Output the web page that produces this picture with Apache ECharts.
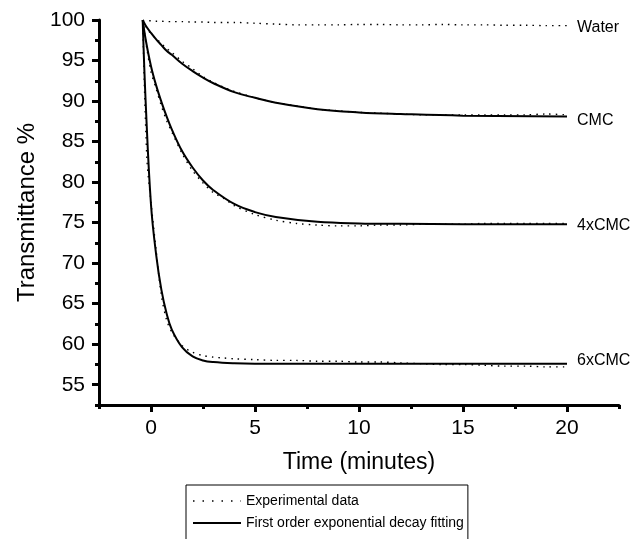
<!DOCTYPE html>
<html>
<head>
<meta charset="utf-8">
<script src="https://cdn.jsdelivr.net/npm/echarts@6/dist/echarts.min.js"></script>
<style>
  html, body { margin: 0; padding: 0; background: #fff; }
  #chart { width: 635px; height: 539px; }
</style>
</head>
<body>
<div id="chart"></div>
<script>
// time points (minutes)
const fitTime = [-0.4, -0.25, 0, 0.25, 0.5, 0.75, 1, 1.5, 2, 2.5, 3, 4, 5, 6, 8, 10, 12, 15, 20];
const expTime = [-0.4, -0.2, 0, 0.25, 0.5, 0.75, 1, 1.5, 2, 2.5, 3, 3.5, 4, 5, 6, 7, 8, 9, 10, 11, 12, 13, 14, 15, 16, 17, 18, 19, 20];

// first order exponential decay fits
const cmcFit = [100, 99.3, 98.4, 97.6, 96.9, 96.2, 95.7, 94.6, 93.7, 92.9, 92.2, 91.1, 90.4, 89.8, 89.0, 88.6, 88.4, 88.2, 88.1];
const cmc4Fit = [100, 97.5, 94.3, 91.9, 89.9, 88.1, 86.5, 83.8, 81.8, 80.2, 79.0, 77.3, 76.3, 75.7, 75.1, 74.9, 74.85, 74.8, 74.8];
const cmc6Fit = [100, 89.5, 77.2, 71.0, 66.7, 63.8, 61.8, 59.6, 58.5, 58.0, 57.8, 57.65, 57.6, 57.6, 57.6, 57.6, 57.6, 57.6, 57.6];

// experimental data
const waterExp = [99.9, 99.9, 99.9, 99.85, 99.85, 99.8, 99.8, 99.8, 99.75, 99.75, 99.7, 99.7, 99.7, 99.6, 99.5, 99.4, 99.4, 99.4, 99.45, 99.45, 99.4, 99.4, 99.45, 99.4, 99.4, 99.35, 99.35, 99.3, 99.3];
const cmcExp = [100, 99.0, 98.3, 97.7, 97.1, 96.5, 96.0, 94.9, 94.0, 93.0, 92.3, 91.7, 91.2, 90.4, 89.8, 89.4, 89.0, 88.8, 88.6, 88.5, 88.4, 88.3, 88.3, 88.3, 88.3, 88.3, 88.3, 88.4, 88.3];
const cmc4Exp = [100, 96.5, 93.6, 91.5, 89.4, 87.6, 86.2, 83.5, 81.4, 79.9, 78.7, 78.0, 77.1, 76.0, 75.3, 74.9, 74.7, 74.6, 74.6, 74.7, 74.7, 74.8, 74.8, 74.8, 74.9, 74.9, 74.9, 74.9, 74.9];
const cmc6Exp = [100, 83.0, 77.5, 71.5, 66.0, 63.0, 61.5, 59.8, 59.0, 58.6, 58.4, 58.3, 58.2, 58.1, 58.0, 58.0, 57.9, 57.9, 57.8, 57.8, 57.7, 57.6, 57.5, 57.5, 57.4, 57.3, 57.3, 57.2, 57.2];

const xMajor = [0, 5, 10, 15, 20];
const xMinor = [-2.5, 2.5, 7.5, 12.5, 17.5, 22.5];
const yMajor = [55, 60, 65, 70, 75, 80, 85, 90, 95, 100];
const yMinor = [52.5, 57.5, 62.5, 67.5, 72.5, 77.5, 82.5, 87.5, 92.5, 97.5];

const EXP = 'Experimental data';
const FIT = 'First order exponential decay fitting';
const font = 'Liberation Sans, Arial, sans-serif';

const zip = (t, v) => t.map((x, i) => [x, v[i]]);

function expSeries(values, label, dy) {
    return {
        name: EXP,
        type: 'line',
        data: zip(expTime, values),
        showSymbol: false,
        symbol: 'none',
        smooth: 0.3,
        silent: true,
        itemStyle: {color: '#000'},
        lineStyle: {color: '#000', width: 1.4, type: [1.5, 5]},
        endLabel: label ? {
            show: true, formatter: label, distance: 10, offset: [0, dy || 0],
            color: '#000', fontSize: 16, fontFamily: font
        } : {show: false}
    };
}

function fitSeries(values, label, dy) {
    return {
        name: FIT,
        type: 'line',
        data: zip(fitTime, values),
        showSymbol: false,
        symbol: 'none',
        smooth: 0.4,
        silent: true,
        itemStyle: {color: '#000'},
        lineStyle: {color: '#000', width: 2},
        endLabel: {
            show: true, formatter: label, distance: 10, offset: [0, dy],
            color: '#000', fontSize: 16, fontFamily: font
        }
    };
}

const axisLineStyle = {show: true, onZero: false, lineStyle: {color: '#000', width: 3}};

const option = {
    animation: false,
    grid: {left: 99, right: 16, top: 20, bottom: 134},
    xAxis: [
        {
            type: 'value', min: -2.5, max: 22.5,
            name: 'Time (minutes)', nameLocation: 'middle', nameGap: 46,
            nameTextStyle: {color: '#000', fontSize: 23, fontFamily: font},
            axisLine: axisLineStyle,
            axisTick: {show: true, inside: false, length: 7, customValues: xMajor, lineStyle: {color: '#000', width: 3}},
            axisLabel: {customValues: xMajor, color: '#000', fontSize: 21, fontFamily: font, margin: 13},
            splitLine: {show: false}
        },
        {
            type: 'value', min: -2.5, max: 22.5, position: 'bottom',
            axisLine: {show: false, onZero: false},
            axisTick: {show: true, length: 4, customValues: xMinor, lineStyle: {color: '#000', width: 3}},
            axisLabel: {show: false},
            splitLine: {show: false}
        }
    ],
    yAxis: [
        {
            type: 'value', min: 52.5, max: 100,
            name: 'Transmittance %', nameLocation: 'middle', nameGap: 59,
            nameTextStyle: {color: '#000', fontSize: 24, fontFamily: font},
            axisLine: axisLineStyle,
            axisTick: {show: true, length: 7, customValues: yMajor, lineStyle: {color: '#000', width: 3}},
            axisLabel: {customValues: yMajor, color: '#000', fontSize: 21, fontFamily: font, margin: 14},
            splitLine: {show: false}
        },
        {
            type: 'value', min: 52.5, max: 100, position: 'left',
            axisLine: {show: false, onZero: false},
            axisTick: {show: true, length: 4, customValues: yMinor, lineStyle: {color: '#000', width: 3}},
            axisLabel: {show: false},
            splitLine: {show: false}
        }
    ],
    legend: {
        orient: 'vertical',
        left: 186, top: 485, height: 120,
        data: [
            {name: EXP, lineStyle: {type: [1.5, 8], width: 1.4}},
            {name: FIT}
        ],
        itemWidth: 48, itemHeight: 10, itemGap: 8,
        padding: [9, 4, 14, 6],
        borderColor: '#000', borderWidth: 1,
        selectedMode: false,
        itemStyle: {opacity: 0},
        textStyle: {color: '#000', fontSize: 14, fontFamily: font, padding: [0, 0, 0, 0]}
    },
    series: [
        expSeries(waterExp, 'Water', 2),
        expSeries(cmcExp),
        expSeries(cmc4Exp),
        expSeries(cmc6Exp),
        fitSeries(cmcFit, 'CMC', 4),
        fitSeries(cmc4Fit, '4xCMC', 1),
        fitSeries(cmc6Fit, '6xCMC', -3)
    ]
};

const chart = echarts.init(document.getElementById('chart'));
chart.setOption(option);
</script>
</body>
</html>
